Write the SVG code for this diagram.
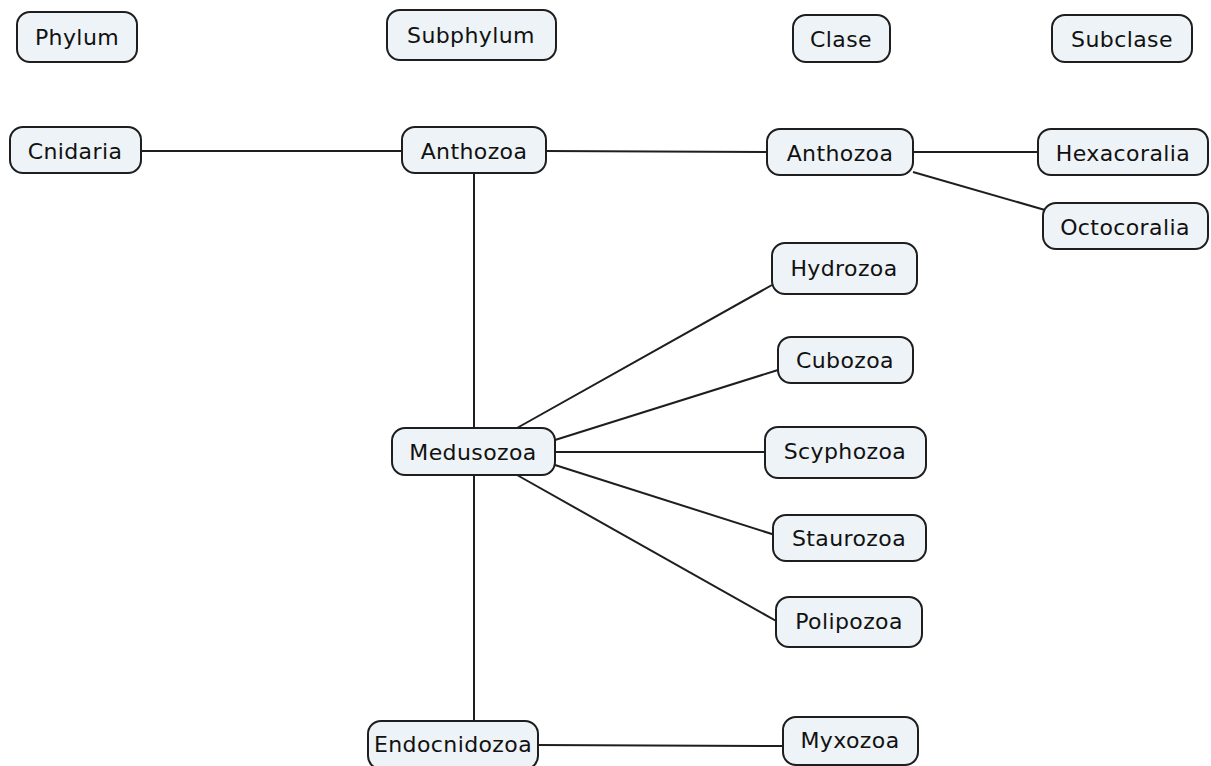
<svg xmlns="http://www.w3.org/2000/svg" width="1211" height="766" viewBox="0 0 1211 766">
<style>
.n rect{fill:#edf3f6;stroke:#1e1e1e;stroke-width:2}
.n text{font-family:"DejaVu Sans",Verdana,sans-serif;font-size:22px;fill:#111;text-anchor:middle;letter-spacing:0.4px}
#edges line{stroke:#1e1e1e;stroke-width:2}
</style>
<rect width="1211" height="766" fill="#fff"/>
<g id="edges">
<line x1="141" y1="151" x2="402" y2="151"/>
<line x1="546" y1="151" x2="767" y2="152"/>
<line x1="913" y1="152" x2="1038" y2="152"/>
<line x1="913" y1="172" x2="1045" y2="210"/>
<line x1="474" y1="173" x2="474" y2="428"/>
<line x1="474" y1="475" x2="474" y2="720"/>
<line x1="517" y1="428" x2="772" y2="285"/>
<line x1="555" y1="440" x2="778" y2="370"/>
<line x1="555" y1="452" x2="765" y2="452"/>
<line x1="555" y1="465" x2="775" y2="535"/>
<line x1="517" y1="475" x2="778" y2="622"/>
<line x1="538" y1="745" x2="783" y2="746"/>
</g>
<g id="phylum" class="n"><rect x="17" y="12" width="120" height="50" rx="13"/><text x="77" y="45">Phylum</text></g>
<g id="subphylum" class="n"><rect x="387" y="10" width="169" height="50" rx="13"/><text x="471" y="43">Subphylum</text></g>
<g id="clase" class="n"><rect x="793" y="15" width="97" height="47" rx="13"/><text x="841" y="47">Clase</text></g>
<g id="subclase" class="n"><rect x="1052" y="15" width="140" height="47" rx="13"/><text x="1122" y="47">Subclase</text></g>
<g id="cnidaria" class="n"><rect x="10" y="127" width="131" height="46" rx="13"/><text x="75" y="159">Cnidaria</text></g>
<g id="anthozoa-sub" class="n"><rect x="402" y="127" width="144" height="46" rx="13"/><text x="474" y="159">Anthozoa</text></g>
<g id="anthozoa-clase" class="n"><rect x="767" y="129" width="146" height="46" rx="13"/><text x="840" y="161">Anthozoa</text></g>
<g id="hexacoralia" class="n"><rect x="1038" y="129" width="170" height="46" rx="13"/><text x="1123" y="161">Hexacoralia</text></g>
<g id="octocoralia" class="n"><rect x="1043" y="203" width="165" height="46" rx="13"/><text x="1125" y="235">Octocoralia</text></g>
<g id="hydrozoa" class="n"><rect x="772" y="243" width="145" height="51" rx="13"/><text x="844" y="276">Hydrozoa</text></g>
<g id="cubozoa" class="n"><rect x="778" y="337" width="135" height="46" rx="13"/><text x="845" y="368">Cubozoa</text></g>
<g id="scyphozoa" class="n"><rect x="765" y="427" width="161" height="51" rx="13"/><text x="845" y="459">Scyphozoa</text></g>
<g id="staurozoa" class="n"><rect x="773" y="515" width="153" height="46" rx="13"/><text x="849" y="546">Staurozoa</text></g>
<g id="polipozoa" class="n"><rect x="776" y="597" width="146" height="50" rx="13"/><text x="849" y="629">Polipozoa</text></g>
<g id="medusozoa" class="n"><rect x="392" y="428" width="163" height="47" rx="13"/><text x="473" y="460">Medusozoa</text></g>
<g id="endocnidozoa" class="n"><rect x="368" y="721" width="170" height="48" rx="13"/><text x="453" y="752">Endocnidozoa</text></g>
<g id="myxozoa" class="n"><rect x="783" y="717" width="135" height="48" rx="13"/><text x="850" y="748">Myxozoa</text></g>
</svg>
